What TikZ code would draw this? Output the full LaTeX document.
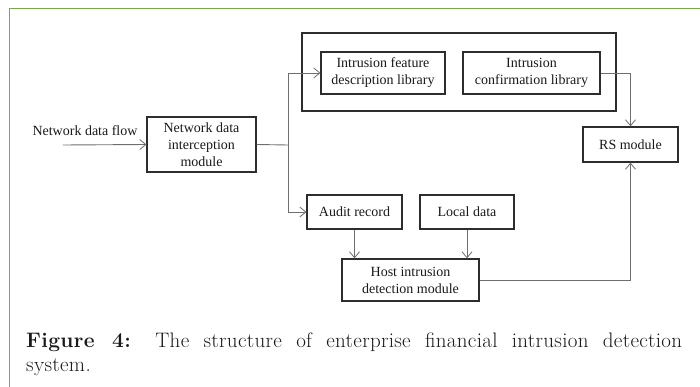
\documentclass[tikz,border=0pt]{standalone}
\usepackage{fontspec}
\newfontfamily\diag{Liberation Serif}
\newfontfamily\capfont{Latin Modern Roman}[LetterSpace=1.5]
\usetikzlibrary{arrows.meta}
\definecolor{framegreen}{RGB}{112,173,71}
\definecolor{boxline}{RGB}{45,45,45}
\definecolor{conn}{RGB}{110,110,110}
\tikzset{
  blk/.style={draw=boxline, line width=1.3pt, inner sep=0pt, align=center,
    font=\diag\fontsize{14}{17}\selectfont, text=black!90},
  conline/.style={draw=conn, line width=0.9pt},
  arr/.style={conline, -{Straight Barb[length=6pt,width=10pt,line width=0.8pt]}},
}
\begin{document}
\begin{tikzpicture}[x=1pt,y=-1pt]
\useasboundingbox (0,0) rectangle (700,387);
% frame
\draw[framegreen, line width=1pt] (9,387) -- (9,9) -- (700,9);
% boxes
\node[blk, minimum width=314pt, minimum height=78pt] (outer) at (459,72) {};
\node[blk, minimum width=124pt, minimum height=42pt] (ifd) at (383,73) {Intrusion feature\\description library};
\node[blk, minimum width=137pt, minimum height=42pt] (icl) at (531.5,73) {Intrusion\\confirmation library};
\node[blk, minimum width=95pt, minimum height=35pt] (rs) at (630.5,144.5) {RS module};
\node[blk, minimum width=109pt, minimum height=55pt] (inter) at (201.5,144.5) {Network data\\interception\\module};
\node[blk, minimum width=95pt, minimum height=34pt] (audit) at (354.5,212) {Audit record};
\node[blk, minimum width=94pt, minimum height=34pt] (local) at (467,212) {Local data};
\node[blk, minimum width=137pt, minimum height=42pt] (host) at (410.5,280) {Host intrusion\\detection module};
\node[font=\diag\fontsize{14}{17}\selectfont, text=black!90] (flow) at (85,131) {Network data flow};
\coordinate (fstart) at (63,145);
\coordinate (split) at (288,145);
% connectors
\draw[arr] (fstart) -- (inter.west);
\draw[conline] (inter.east) -- (split);
\draw[arr] (split) |- (ifd.west);
\draw[arr] (split) |- (audit.west);
\draw[arr] (audit.south) -- (audit.south |- host.north);
\draw[arr] (local.south) -- (local.south |- host.north);
\draw[arr] (icl.east) -| (rs.north);
\draw[arr] (host.east) -| (rs.south);
% caption
\node[anchor=north west, inner sep=0pt, text width=656pt, align=justify,
  font=\capfont\fontsize{21}{23.5}\selectfont, text=black!90] (cap) at (26,333)
  {\textbf{Figure 4:} The structure of enterprise financial intrusion detection\linebreak system.};
\end{tikzpicture}
\end{document}
